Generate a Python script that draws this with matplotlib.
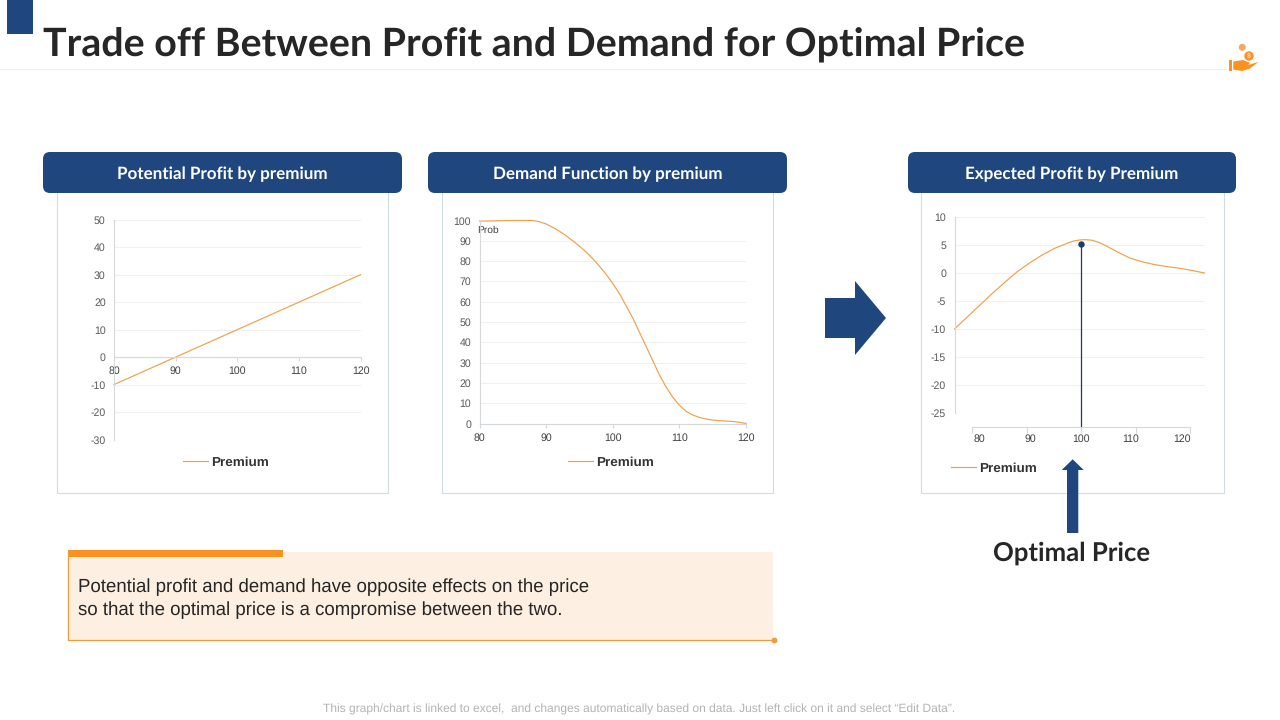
import matplotlib
matplotlib.use("Agg")
import matplotlib.pyplot as plt
from matplotlib.patches import FancyBboxPatch, Polygon, Rectangle, Circle

plt.rcParams["axes.unicode_minus"] = False
plt.rcParams["text.hinting"] = "no_hinting"

# ---------- data ----------
title = "Trade off Between Profit and Demand for Optimal Price"
series_name = "Premium"
profit_x = [80, 90, 100, 110, 120]
profit_y = [-10, 0, 10, 20, 30]
profit_ticks = [-30, -20, -10, 0, 10, 20, 30, 40, 50]
demand_x = [80, 82, 84, 86, 88, 89, 90, 91, 92, 93, 94, 95, 96, 97, 98, 99, 100, 101, 102, 103, 104, 105,
            106, 107, 108, 109, 110, 111, 112, 113, 114, 115, 116, 117, 118, 119, 120]
demand_y = [99.7, 99.8, 100, 100, 100, 99.4, 98.3, 96.6, 94.7, 92.5, 90, 87.4, 84.5, 81.2, 77.5, 73.5, 69, 64, 58, 52, 45, 38,
            31, 24, 18, 13, 9, 6, 4.2, 3, 2.2, 1.7, 1.4, 1.2, 1, 0.6, 0]
demand_ticks = list(range(0, 101, 10))
expected_x = [80, 82, 84, 86, 88, 90, 92, 94, 96, 98, 99, 100, 101, 102, 103, 104, 105,
              106, 108, 110, 112, 114, 116, 118, 120]
expected_y = [-10, -7.9, -5.8, -3.7, -1.7, 0.2, 1.8, 3.2, 4.4, 5.3, 5.7, 5.9, 5.95, 5.85, 5.5, 5.0, 4.4,
              3.8, 2.7, 2.0, 1.5, 1.15, 0.85, 0.45, 0]
expected_ticks = [-25, -20, -15, -10, -5, 0, 5, 10]
x_ticks = [80, 90, 100, 110, 120]
optimal_x = 100
optimal_y = 5.2
headers = ["Potential Profit by premium", "Demand Function by premium", "Expected Profit by Premium"]
note_lines = ["Potential profit and demand have opposite effects on the price",
              "so that the optimal price is a compromise between the two."]
footer = "This graph/chart is linked to excel,  and changes automatically based on data. Just left click on it and select \u201cEdit Data\u201d."

# ---------- style ----------
NAVY = "#1f477d"
ORANGE = "#f0a04b"
BRIGHT = "#fb9120"
GRID = "#f0f0f0"
SPINE = "#d6d9dc"
TICK = "#595959"
HEAD_FONT = "Lato"
BODY = "Liberation Sans"
TICK_SIZE = 7.6
CURVE_LW = 0.85

W, H = 1280, 720
fig = plt.figure(figsize=(12.8, 7.2), dpi=100, facecolor="white")
bg = fig.add_axes([0, 0, 1, 1])
bg.set_xlim(0, W)
bg.set_ylim(H, 0)
bg.axis("off")


def px_axes(l, t, r, b):
    a = fig.add_axes([(l - 0.5) / W, 1 - (b - 0.5) / H, (r - l) / W, (b - t) / H])
    a.patch.set_alpha(0)
    return a


def style(a):
    for s in ("top", "right"):
        a.spines[s].set_visible(False)
    a.spines["left"].set_color(SPINE)
    a.spines["bottom"].set_color(SPINE)
    a.spines["left"].set_linewidth(0.8)
    a.spines["bottom"].set_linewidth(0.8)
    a.grid(axis="y", color=GRID, lw=0.8)
    a.set_axisbelow(True)
    a.tick_params(axis="y", length=0, pad=6, labelsize=TICK_SIZE, labelcolor=TICK)
    a.tick_params(axis="x", length=3, color=SPINE, width=0.8, pad=3, labelsize=TICK_SIZE, labelcolor="#404040")
    for lab in a.get_xticklabels() + a.get_yticklabels():
        lab.set_fontfamily(BODY)


def legend(a, cx, cy):
    leg = a.legend([a.lines[0]], [series_name], loc="center", frameon=False,
                   bbox_to_anchor=(cx, cy), bbox_transform=bg.transData,
                   handlelength=1.88, handletextpad=0.2,
                   prop={"family": BODY, "size": 9.7, "weight": "bold"})
    leg.get_texts()[0].set_color("#333333")


# ---------- slide furniture ----------
bg.add_patch(Rectangle((7, 0), 26, 34, color=NAVY, lw=0))
bg.plot([0, 1228], [68.8, 68.8], color="#efefef", lw=0.8, zorder=0)
bg.text(43, 45, title, family=HEAD_FONT, weight="bold", fontsize=28.4, color="#262626", va="center", ha="left")

for (l, r) in [(57, 388), (442, 773), (921, 1224)]:
    bg.add_patch(Rectangle((l, 185), r - l, 308, fc="white", ec="#d0dce4", lw=0.8))
for (l, r), txt in zip([(43, 402), (428, 787), (908, 1236)], headers):
    bg.add_patch(FancyBboxPatch((l, 152), r - l, 41, boxstyle="round,pad=0,rounding_size=7", fc=NAVY, lw=0))
    bg.text((l + r) / 2, 174, txt, family=HEAD_FONT, weight="bold", fontsize=12.25, color="white",
            ha="center", va="center")

# ---------- chart 1 ----------
a1 = px_axes(114.5, 220.3, 361, 440)
a1.plot(profit_x, profit_y, color=ORANGE, lw=CURVE_LW, clip_on=False)
a1.set_xlim(80, 120)
a1.set_ylim(-30, 50)
a1.set_yticks(profit_ticks)
a1.set_xticks(x_ticks)
a1.spines["bottom"].set_position(("data", 0))
style(a1)
legend(a1, 225.5, 462.5)

# ---------- chart 2 ----------
a2 = px_axes(480, 221, 746.5, 424)
a2.plot(demand_x, demand_y, color=ORANGE, lw=CURVE_LW, clip_on=False)
a2.set_xlim(80, 120)
a2.set_ylim(0, 100)
a2.set_yticks(demand_ticks)
a2.set_xticks(x_ticks)
style(a2)
a2.tick_params(axis="x", pad=4)
legend(a2, 610.5, 462.5)
bg.text(477, 230.5, "Prob", family=BODY, fontsize=7.4, color="#404040", va="center", ha="left")

# ---------- chart 3 ----------
a3 = px_axes(955, 217.5, 1205, 413.5)
a3.plot(expected_x, expected_y, color=ORANGE, lw=CURVE_LW, clip_on=False)
a3.set_xlim(80, 120)
a3.set_ylim(-25, 10)
a3.set_yticks(expected_ticks)
a3.set_xticks([])
style(a3)
a3.spines["bottom"].set_visible(False)

# lower axis, same y scale as the curve, extended down to the tick line
ybottom = 10 - (427.5 - 217.5) / (196 / 35)
a3b = px_axes(972.5, 217.5, 1190.5, 427.5)
a3b.set_xlim(80, 120)
a3b.set_ylim(ybottom, 10)
a3b.set_xticks(x_ticks)
a3b.set_xticklabels([])
a3b.set_yticks([])
for s in ("top", "right", "left"):
    a3b.spines[s].set_visible(False)
a3b.spines["bottom"].set_color(SPINE)
a3b.spines["bottom"].set_linewidth(0.8)
a3b.tick_params(axis="x", direction="out", length=4, color=SPINE, width=0.8)
a3b.plot([optimal_x, optimal_x], [ybottom, optimal_y], color="#1c3d6b", lw=0.9, clip_on=False)
a3b.plot([optimal_x], [optimal_y], "o", color="#1c3d6b", ms=3.6, clip_on=False)

# the labels sit slightly narrower than the ticks in the reference
a3c = px_axes(980, 217.5, 1182, 427.5)
a3c.set_xlim(80, 120)
a3c.set_xticks(x_ticks)
a3c.set_yticks([])
for s in a3c.spines.values():
    s.set_visible(False)
a3c.tick_params(axis="x", length=0, pad=5, labelsize=TICK_SIZE, labelcolor="#404040")
for lab in a3c.get_xticklabels():
    lab.set_fontfamily(BODY)
legend(a3, 994, 468.5)

# ---------- arrows ----------
bg.add_patch(Polygon([(825, 298), (855, 298), (855, 281), (886, 318), (855, 355), (855, 338), (825, 338)],
                     closed=True, fc=NAVY, lw=0))
bg.add_patch(Polygon([(1072.7, 459.3), (1083.7, 470), (1078.3, 470), (1078.3, 533), (1067, 533), (1067, 470), (1061.7, 470)],
                     closed=True, fc=NAVY, lw=0))
bg.text(1071.5, 553, "Optimal Price", family=HEAD_FONT, weight="bold", fontsize=18.5, color="#262626",
        ha="center", va="center")

# ---------- note box ----------
bg.add_patch(Rectangle((68, 552), 705, 88, fc="#fdefe1", lw=0))
bg.plot([68, 68, 773], [552, 640, 640], color="#f19a3e", lw=0.9)
bg.plot([773.5], [640], "o", color="#f19a3e", ms=3.2)
bg.add_patch(Rectangle((68, 550), 215, 7, fc=BRIGHT, lw=0))
bg.text(78, 587.5, note_lines[0], family=BODY, fontsize=13.4, color="#262626", va="center", ha="left")
bg.text(78, 610, note_lines[1], family=BODY, fontsize=13.4, color="#262626", va="center", ha="left")

# ---------- footer ----------
bg.text(639.5, 709.5, footer, family=BODY, fontsize=8.64, color="#b3b3b3", ha="center", va="center")

# ---------- hand icon ----------
bg.add_patch(Rectangle((1229, 60), 3.4, 10.5, fc=BRIGHT, lw=0))
bg.add_patch(Polygon([(1233.3, 61.5), (1243, 60), (1250, 63), (1248, 65), (1258.3, 62), (1250, 68.5),
                      (1242, 71), (1233.3, 69.5)], closed=True, fc=BRIGHT, lw=0))
bg.add_patch(Circle((1242.3, 47.3), 3.5, fc="#f7a85a", lw=0))
bg.add_patch(Circle((1249, 56), 4.7, fc=BRIGHT, lw=0))
bg.text(1249, 56, "$", family=BODY, fontsize=5, weight="bold", color="#fde3c4", ha="center", va="center")

fig.savefig("out.png", dpi=100)
